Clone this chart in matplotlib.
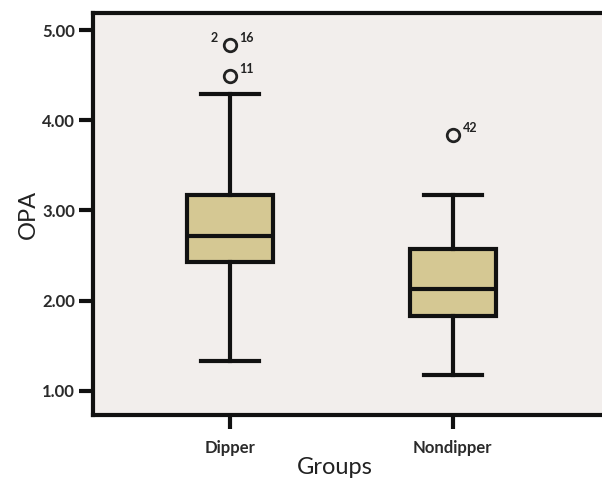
import matplotlib.pyplot as plt

groups = ['Dipper', 'Nondipper']
whislo = [1.33, 1.17]
q1 = [2.43, 1.83]
med = [2.72, 2.13]
q3 = [3.17, 2.57]
whishi = [4.29, 3.17]
outliers = [[4.49, 4.84], [3.84]]
outlier_ids = [['11', '16'], ['42']]

stats = []
for i, g in enumerate(groups):
    stats.append(dict(label=g, whislo=whislo[i], q1=q1[i], med=med[i], q3=q3[i],
                      whishi=whishi[i], fliers=outliers[i]))

plt.rcParams['font.family'] = ['Lato', 'DejaVu Sans']

fig = plt.figure(figsize=(6.02, 4.82), dpi=100)
ax = fig.add_axes([0.1545, 0.139, 0.8455, 0.834])
ax.set_facecolor('#f2eeec')

lw = 3
ax.bxp(stats, positions=[1, 2], widths=0.385, patch_artist=True,
       boxprops=dict(facecolor='#d5c893', edgecolor='#111111', linewidth=lw),
       medianprops=dict(color='#111111', linewidth=lw),
       whiskerprops=dict(color='#111111', linewidth=lw),
       capprops=dict(color='#111111', linewidth=lw),
       capwidths=0.26,
       flierprops=dict(marker='o', markerfacecolor='none', markeredgecolor='#222222',
                       markersize=9, markeredgewidth=2))

# outlier case labels
for i, pts in enumerate(outliers):
    for v, lab in zip(pts, outlier_ids[i]):
        ax.annotate(lab, (i + 1, v), xytext=(7, 2), textcoords='offset points',
                    fontsize=9, fontweight='bold', color='#222222')
ax.annotate('2', (1, outliers[0][1]), xytext=(-14, 2), textcoords='offset points',
            fontsize=9, fontweight='bold', color='#222222')

ax.set_xlim(0.386, 2.67)
ax.set_ylim(0.73, 5.19)
ax.set_yticks([1, 2, 3, 4, 5])
ax.set_yticklabels(['1.00', '2.00', '3.00', '4.00', '5.00'])

for s in ['left', 'bottom', 'top']:
    ax.spines[s].set_linewidth(3)
    ax.spines[s].set_color('#111111')
ax.spines['right'].set_visible(False)

ax.tick_params(axis='both', direction='out', length=10, width=3, color='#111111',
               labelsize=12, pad=3)
ax.tick_params(axis='x', pad=8)
for t in ax.get_yticklabels() + ax.get_xticklabels():
    t.set_fontweight('bold')
    t.set_color('#2a2a2a')

ax.set_ylabel('OPA', fontsize=17, color='#222222', labelpad=2)
ax.set_xlabel('Groups', fontsize=17, color='#222222', labelpad=0)
ax.xaxis.set_label_coords(0.475, -0.105)

fig.savefig('out.png', dpi=100)
